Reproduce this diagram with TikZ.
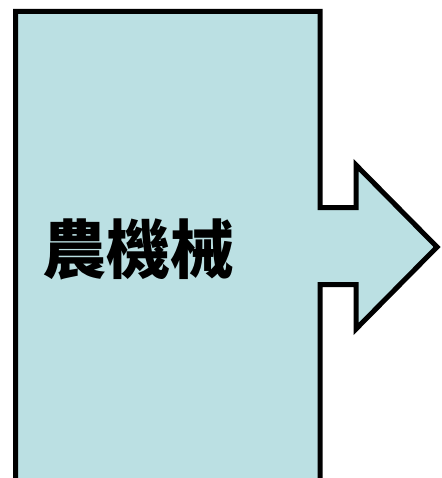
\documentclass[tikz,border=0pt]{standalone}
\usepackage{fontspec}
\newfontfamily\cjk{Noto Sans CJK TC}
\definecolor{boxfill}{RGB}{187,224,227}
\begin{document}
\begin{tikzpicture}[x=1pt,y=-1pt,
  shapeline/.style={draw=black,line width=5pt,fill=boxfill,line join=miter,miter limit=10},
  lbl/.style={font=\cjk\bfseries\fontsize{64}{72}\selectfont,inner sep=0pt}]
\useasboundingbox (0,0) rectangle (441,478);
\begin{scope}
\clip (0,0) rectangle (441,478);
\draw[shapeline] (15.5,11.5) -- (320,11.5) -- (320,207.5) -- (356,207.5) -- (356,165)
  -- (437,247) -- (356,329) -- (356,284.5) -- (320,284.5) -- (320,495)
  -- (15.5,495) -- cycle;
\end{scope}
\node[lbl] (t) at (138,249) {農機械};
\end{tikzpicture}
\end{document}
